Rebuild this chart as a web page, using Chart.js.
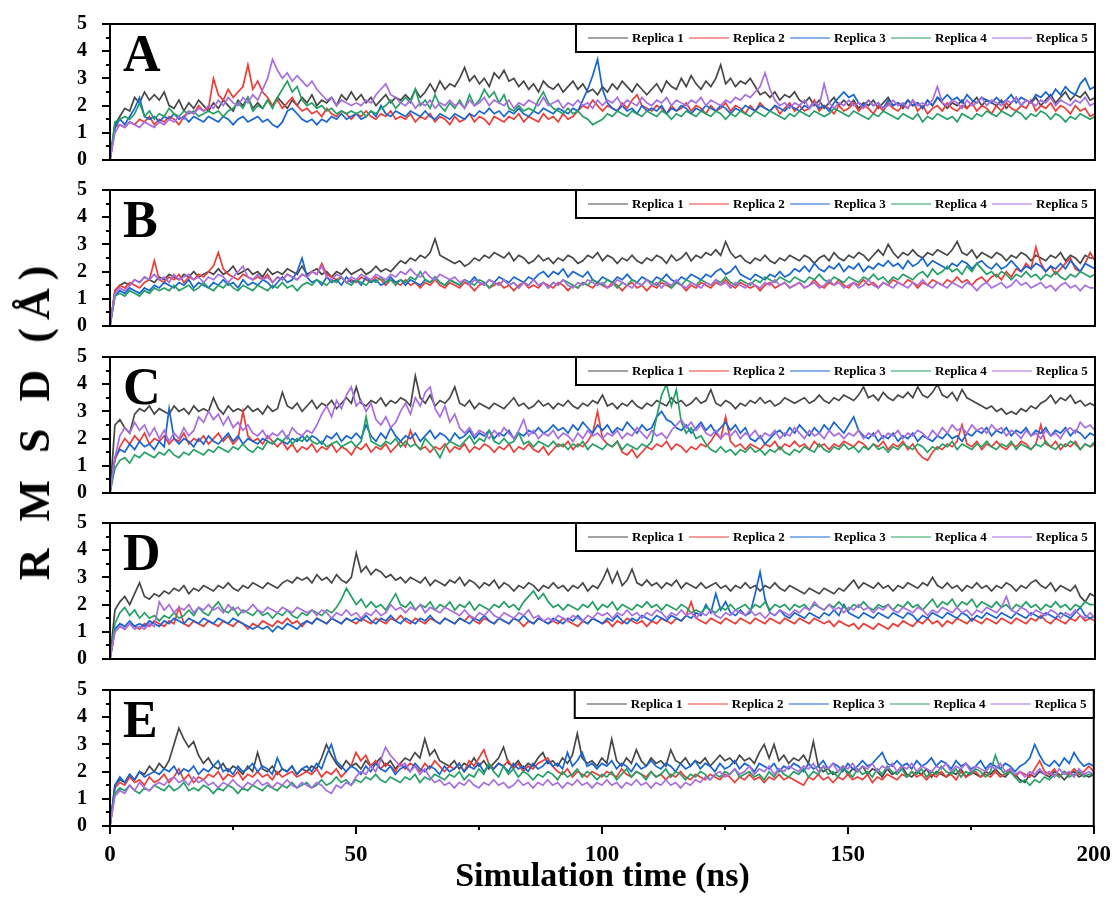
<!DOCTYPE html>
<html>
<head>
<meta charset="utf-8">
<script src="https://cdn.jsdelivr.net/npm/chart.js@4.4.1/dist/chart.umd.min.js"></script>
<style>
  body { margin: 0; background: #fff; }
  #wrap { position: relative; width: 1118px; height: 906px; overflow: hidden; font-family: "Liberation Serif", "Times New Roman", serif; }
  canvas { position: absolute; left: 0; }
  #ytitle {
    position: absolute; left: 35px; top: 419px;
    transform: translate(-50%, -50%) rotate(-90deg);
    white-space: nowrap; font-weight: bold; font-size: 44px; line-height: 1; letter-spacing: 8px;
  }
  #xtitle {
    position: absolute; left: 110px; width: 985px; top: 858px;
    text-align: center; font-weight: bold; font-size: 34px; line-height: 1;
  }
</style>
</head>
<body>
<div id="wrap">
  <canvas id="panelA" width="1118" height="203" style="top:-3px"></canvas>
  <canvas id="panelB" width="1118" height="203" style="top:163px"></canvas>
  <canvas id="panelC" width="1118" height="203" style="top:330px"></canvas>
  <canvas id="panelD" width="1118" height="203" style="top:496px"></canvas>
  <canvas id="panelE" width="1118" height="203" style="top:663px"></canvas>
  <div id="ytitle">R M S D (Å)</div>
  <div id="xtitle">Simulation time (ns)</div>
</div>
<script>
// sampled every 1 ns, 0..200 ns
const timeNs = Array.from({ length: 201 }, (_, i) => i);

const replicaNames = ["Replica 1", "Replica 2", "Replica 3", "Replica 4", "Replica 5"];
const replicaColors = ["#474747", "#ee3b36", "#1665d4", "#24a064", "#a86de2"];

const yTickValues = [0, 1, 2, 3, 4, 5];
const yMinorValues = [0.5, 1.5, 2.5, 3.5, 4.5];
const xTickValues = [0, 50, 100, 150, 200];
const xMinorValues = [25, 75, 125, 175];

// ---- panel A ----
const rmsdA1 = [
  0, 1.3, 1.6, 1.9, 1.8, 2.3, 2.1, 2.5, 2.2, 2.4,
  2.2, 2.5, 2.0, 1.9, 2.2, 1.8, 2.1, 1.9, 2.2, 2.0,
  1.8, 2.1, 1.9, 2.2, 2.0, 1.8, 2.2, 2.0, 2.3, 1.9,
  2.1, 1.9, 2.2, 2.0, 2.3, 2.1, 1.9, 2.2, 2.0, 2.3,
  2.1, 2.4, 2.0, 2.2, 2.1, 2.3, 2.0, 2.4, 2.2, 2.5,
  2.2, 2.4, 2.1, 2.3, 2.0, 2.2, 2.4, 2.1, 2.3, 2.2,
  2.4, 2.2, 2.6, 2.3, 2.5, 2.8, 2.5, 2.9, 2.6, 2.8,
  2.7, 3.0, 3.4, 2.9, 3.1, 2.8, 3.0, 2.7, 3.2, 3.0,
  3.3, 2.9, 3.0, 2.7, 2.9, 2.6, 2.8, 2.5, 2.9, 2.7,
  2.6, 2.8, 2.5, 2.7, 2.9, 2.6, 2.8, 2.5, 2.6, 2.4,
  2.7, 2.5, 2.8, 2.6, 2.9, 2.7, 2.5, 2.8, 2.6, 2.4,
  2.6, 2.8, 2.5, 2.9, 2.7, 2.6, 3.0, 2.7, 3.1, 2.8,
  2.6, 2.9, 2.7, 3.0, 3.5, 2.8, 3.0, 2.7, 2.9, 2.8,
  3.0, 2.7, 2.4, 2.5, 2.3, 2.5, 2.2, 2.4, 2.3, 2.5,
  2.2, 2.1, 2.3, 2.0, 2.2, 1.9, 2.1, 2.3, 2.0, 2.2,
  2.0, 2.2, 1.9, 2.1, 2.0, 2.2, 1.9, 2.1, 2.3, 2.0,
  2.1, 1.9, 2.2, 2.0, 2.1, 1.9, 2.2, 2.0, 2.3, 2.1,
  1.9, 2.1, 2.0, 2.2, 1.9, 2.1, 2.3, 2.0, 2.2, 2.1,
  2.0, 2.2, 1.9, 2.1, 2.3, 2.0, 2.2, 2.1, 2.3, 2.0,
  2.2, 2.4, 2.1, 2.3, 2.5, 2.2, 2.4, 2.3, 2.5, 2.2,
  2.3
];
const rmsdA2 = [
  0, 1.2, 1.3, 1.2, 1.4, 1.3, 1.5, 1.4, 1.6, 1.3,
  1.5, 1.4, 1.6, 1.5, 1.3, 1.6, 1.8, 1.7, 2.0, 1.8,
  1.9, 3.0, 2.4, 2.2, 2.6, 2.3, 2.5, 2.7, 3.5, 2.6,
  2.9, 2.5, 2.3, 2.0, 2.2, 1.9, 2.1, 2.3, 2.0, 1.8,
  1.9, 1.7, 1.8, 1.6, 1.9, 1.7, 1.6, 1.8, 1.7, 1.5,
  1.7, 1.6, 1.8, 1.6, 1.5, 1.7, 1.6, 1.8, 1.5, 1.6,
  1.5, 1.7, 1.4, 1.6, 1.5, 1.7, 1.4, 1.6, 1.5, 1.3,
  1.6, 1.4, 1.5, 1.7, 1.4, 1.6, 1.5, 1.3, 1.6, 1.5,
  1.4, 1.6, 1.5, 1.7, 1.4, 1.6, 1.5, 1.4, 1.7, 1.5,
  1.6, 1.4, 1.7, 1.5, 1.6, 1.8, 2.0, 1.9, 2.2, 2.0,
  1.8, 2.0, 1.9, 1.8, 2.1, 1.9, 2.2, 2.4, 2.0, 1.9,
  1.8, 2.0, 1.9, 1.7, 2.0, 1.8, 1.9, 2.1, 1.8, 2.0,
  1.9, 1.7, 2.0, 1.8, 1.9, 2.1, 1.8, 2.0, 1.9, 1.7,
  2.0, 1.8, 2.1, 1.9, 1.8, 2.0, 1.7, 1.9, 2.1, 1.8,
  2.0, 1.8, 1.9, 2.2, 1.8, 2.0, 1.9, 1.7, 2.0, 1.8,
  1.9, 2.1, 1.8, 2.0, 1.9, 1.7, 2.0, 1.8, 2.1, 1.9,
  1.8, 2.0, 1.9, 2.2, 1.8, 2.0, 1.7, 1.9, 2.0, 1.8,
  2.1, 1.9, 1.8, 2.0, 1.9, 2.1, 1.8, 2.0, 1.9, 1.7,
  2.0, 1.8, 2.1, 1.9, 1.8, 2.0, 1.9, 2.2, 1.8, 2.0,
  1.9, 2.1, 1.8, 2.0, 1.9, 1.7, 2.0, 1.8, 1.9, 1.6,
  1.7
];
const rmsdA3 = [
  0, 1.2, 1.5, 1.3, 1.6, 1.9, 2.3, 1.6, 1.5, 1.6,
  1.4, 1.6, 1.5, 1.7, 1.5, 1.6, 1.4, 1.6, 1.5, 1.4,
  1.6, 1.5, 1.4, 1.6, 1.5, 1.3, 1.5, 1.6, 1.4, 1.5,
  1.6, 1.4, 1.5, 1.3, 1.2, 1.4, 1.8, 1.9, 1.7, 1.5,
  1.4, 1.5, 1.3, 1.5, 1.4, 1.6, 1.5, 1.7, 1.5, 1.6,
  1.7, 1.5, 1.6, 1.8, 1.6, 2.0, 1.7, 1.6, 1.8, 1.7,
  1.6, 1.8, 1.7, 1.6, 1.8, 1.6, 1.5, 1.7, 1.6, 1.5,
  1.7, 1.6, 1.5, 1.7, 1.6, 1.8, 1.7, 1.9, 1.7, 1.8,
  1.6, 1.8, 1.7, 1.9, 1.7, 1.6, 1.8, 1.7, 1.9, 1.8,
  1.7, 1.9, 1.8, 1.7, 1.9, 1.8, 2.2, 2.6, 3.1, 3.7,
  2.6, 2.1, 1.9, 1.8, 2.0, 1.8, 1.9, 1.7, 2.0, 1.8,
  1.9, 1.8, 2.0, 1.7, 1.9, 1.8, 2.0, 1.9, 1.7, 1.9,
  1.8, 2.0, 1.9, 1.8, 2.0, 1.9, 1.7, 1.9, 1.8, 2.0,
  1.9, 1.8, 2.0, 1.9, 1.8, 2.0, 1.9, 1.8, 2.0, 1.9,
  1.8, 2.0, 1.9, 2.1, 1.9, 2.0, 1.8, 2.1, 2.3, 2.5,
  2.3, 2.4, 2.1, 2.0, 2.2, 2.0, 2.1, 1.9, 2.2, 2.0,
  2.1, 2.0, 2.2, 2.0, 2.1, 1.9, 2.2, 2.0, 2.3, 2.2,
  2.4, 2.2, 2.3, 2.1, 2.4, 2.2, 2.1, 2.3, 2.2, 2.1,
  2.3, 2.1, 2.2, 2.4, 2.1, 2.3, 2.2, 2.1, 2.4, 2.3,
  2.5, 2.3, 2.6, 2.4, 2.7, 2.5, 2.4, 2.8, 3.0, 2.6,
  2.7
];
const rmsdA4 = [
  0, 1.4, 1.5, 1.6, 1.5, 1.7, 2.1, 1.6, 1.8, 1.5,
  1.7, 1.6, 1.9, 1.7, 1.6, 1.8, 1.7, 1.8, 1.6, 1.7,
  1.8, 1.7, 1.8, 1.6, 1.8, 1.9, 2.1, 1.9, 2.3, 1.8,
  2.0, 1.9, 2.2, 1.9, 2.3, 2.6, 2.9, 2.5, 2.7, 2.2,
  2.0, 2.1, 1.9, 2.0, 1.8, 1.9, 1.7, 1.8, 1.7, 1.8,
  1.7, 1.8, 1.6, 1.8, 1.7, 1.9, 2.0, 2.2, 1.9, 2.1,
  2.3, 2.1, 2.6, 2.0, 2.2, 1.9, 2.4, 2.0, 1.8, 2.1,
  1.9, 2.2, 1.9, 2.4, 2.0, 2.2, 2.6, 2.3, 2.5, 2.1,
  2.4, 1.9, 1.8, 2.0, 1.8, 1.9, 1.8, 2.2, 2.5, 2.1,
  1.9, 1.8, 1.7, 1.9, 1.7, 1.8, 1.6, 1.5, 1.3, 1.4,
  1.5, 1.7, 1.6, 1.8, 1.7, 1.6, 1.8, 1.7, 1.6, 1.8,
  1.7, 1.6, 1.8, 1.7, 1.5, 1.7, 1.6, 1.8, 1.7, 1.6,
  1.8, 1.7, 1.6, 1.8, 1.7, 1.5, 1.7, 1.6, 1.8, 1.7,
  1.6, 1.8, 1.7, 1.6, 1.8, 1.7, 1.6, 1.5, 1.7, 1.6,
  1.8, 1.7, 1.6, 1.8, 1.7, 1.6, 1.7, 1.9, 1.8, 1.7,
  1.6, 1.8, 1.7, 1.6, 1.5, 1.7, 1.6, 1.8, 1.7, 1.6,
  1.5, 1.7, 1.6, 1.5, 1.7, 1.4, 1.6, 1.5, 1.7, 1.6,
  1.5, 1.6, 1.4, 1.7, 1.6, 1.5, 1.7, 1.6, 1.8, 1.7,
  1.6, 1.8, 1.7, 1.6, 1.8, 1.7, 1.5, 1.7, 1.6, 1.8,
  1.7, 1.5, 1.7, 1.6, 1.4, 1.6, 1.5, 1.7, 1.6, 1.5,
  1.6
];
const rmsdA5 = [
  0, 1.0, 1.3, 1.2, 1.4, 1.3, 1.2, 1.4, 1.3, 1.2,
  1.4, 1.3, 1.5, 1.4, 1.6, 1.5, 1.8, 1.7, 1.9, 1.8,
  2.0, 1.9, 2.2, 2.0, 2.3, 2.1, 2.0, 2.3, 2.1, 2.4,
  2.2, 2.6, 3.0, 3.7, 3.3, 3.0, 3.2, 2.9, 3.1, 2.9,
  2.7, 2.9, 2.6, 2.4, 2.2, 2.3, 2.0, 2.2, 2.1, 2.0,
  2.1, 2.0, 2.2, 2.1, 2.4, 2.6, 2.8, 2.4, 2.3, 2.1,
  2.0, 2.2, 1.9, 2.1, 2.0, 2.2, 1.9, 2.1, 2.0, 2.2,
  2.0, 2.1, 1.9, 2.2, 2.0, 2.1, 2.3, 2.0, 2.2, 2.1,
  2.0, 2.2, 1.9, 2.1, 2.0, 2.2, 2.1, 2.0, 2.3, 2.0,
  2.1, 2.2, 1.9, 2.1, 2.0, 2.2, 2.0, 2.1, 1.9, 2.2,
  2.0, 2.2, 2.1, 2.3, 2.0, 2.2, 2.1, 2.0, 2.3, 2.1,
  2.0, 2.2, 2.1, 2.3, 2.0, 2.2, 2.1, 2.0, 2.2, 2.1,
  2.3, 2.0, 2.2, 2.1, 2.0, 2.2, 2.1, 2.3, 2.2, 2.4,
  2.3, 2.5, 2.7, 3.2, 2.6, 2.2, 2.0, 2.1, 1.9, 2.1,
  2.0, 2.2, 1.9, 2.1, 2.0, 2.8, 2.1, 1.9, 2.1, 2.0,
  2.2, 2.0, 2.1, 1.9, 2.2, 2.0, 2.1, 1.9, 2.0, 2.2,
  2.0, 2.1, 1.9, 2.2, 2.0, 2.1, 2.0, 2.2, 2.7, 2.1,
  2.0, 2.2, 2.1, 1.9, 2.2, 2.0, 2.1, 2.3, 2.0, 2.2,
  2.1, 2.0, 2.2, 2.1, 2.3, 2.0, 2.2, 2.1, 2.0, 2.2,
  2.1, 2.3, 2.0, 2.2, 2.1, 2.0, 2.2, 2.1, 2.3, 2.0,
  2.1
];

// ---- panel B ----
const rmsdB1 = [
  0, 1.3, 1.5, 1.6, 1.5, 1.7, 1.6, 1.8, 1.7, 1.6,
  1.8, 1.7, 1.9, 1.8, 1.7, 1.9, 1.8, 2.0, 1.8, 1.9,
  2.0, 1.9, 2.1, 1.9, 2.0, 2.2, 1.9, 2.0, 2.1, 1.9,
  2.0, 1.8, 2.1, 1.9, 2.0, 1.9, 2.1, 2.0, 1.9, 2.2,
  1.9, 2.0, 2.1, 1.9, 2.0, 1.8, 2.0, 1.9, 2.1, 1.9,
  2.0, 2.1, 1.9, 2.0, 2.2, 2.0, 2.1, 2.0, 2.2, 2.4,
  2.3, 2.5, 2.4, 2.6, 2.5, 2.7, 3.2, 2.6, 2.5, 2.4,
  2.3, 2.4, 2.2, 2.3, 2.5, 2.4, 2.6, 2.5, 2.7, 2.6,
  2.5, 2.7, 2.4, 2.6, 2.5, 2.3, 2.4, 2.6, 2.4, 2.5,
  2.3, 2.5, 2.4, 2.6, 2.5, 2.3, 2.4, 2.6, 2.5, 2.7,
  2.4, 2.6, 2.5, 2.3, 2.5, 2.4, 2.6, 2.4, 2.3, 2.5,
  2.4, 2.6, 2.5, 2.3, 2.6, 2.4, 2.5, 2.7, 2.4, 2.6,
  2.5, 2.7, 2.6, 2.8, 2.6, 3.1, 2.7, 2.5, 2.6, 2.4,
  2.3, 2.5, 2.4, 2.6, 2.4, 2.3, 2.5, 2.4, 2.6, 2.5,
  2.4, 2.6, 2.5, 2.3, 2.5, 2.6, 2.4, 2.7, 2.5, 2.4,
  2.6, 2.5, 2.7, 2.6, 2.4, 2.6, 2.8, 2.6, 3.0, 2.7,
  2.5, 2.7, 2.6, 2.8, 2.6, 2.5, 2.7, 2.6, 2.8, 2.7,
  2.6, 2.8, 3.1, 2.7, 2.6, 2.8, 2.5, 2.7, 2.6, 2.5,
  2.7, 2.6, 2.4, 2.6, 2.5, 2.7, 2.6, 2.4, 2.6, 2.5,
  2.4, 2.6, 2.5, 2.7, 2.4, 2.6, 2.5, 2.3, 2.6, 2.5,
  2.5
];
const rmsdB2 = [
  0, 1.3, 1.5, 1.4, 1.6, 1.5, 1.4, 1.6, 1.7, 2.4,
  1.7, 1.6, 1.8, 1.7, 1.9, 1.6, 1.8, 1.7, 1.9, 1.8,
  2.0, 2.2, 2.7, 2.1, 1.9, 1.8, 1.7, 1.9, 1.8, 1.7,
  1.8, 1.7, 1.9, 1.6, 1.8, 1.7, 1.9, 1.8, 1.7, 1.9,
  1.8, 2.0, 1.9, 2.3, 1.9, 1.8, 1.7, 1.8, 1.6, 1.7,
  1.6, 1.8, 1.7, 1.6, 1.8, 1.7, 1.5, 1.7, 1.6, 1.5,
  1.7, 1.5, 1.6, 1.4, 1.6, 1.5, 1.7, 1.5, 1.4, 1.6,
  1.5, 1.4, 1.6, 1.5, 1.3, 1.5, 1.6, 1.4, 1.5, 1.6,
  1.4, 1.5, 1.3, 1.5, 1.6, 1.4, 1.5, 1.4, 1.6, 1.5,
  1.4, 1.6, 1.5, 1.3, 1.5, 1.4, 1.6, 1.5, 1.4, 1.6,
  1.5, 1.4, 1.6, 1.5, 1.3, 1.5, 1.6, 1.4, 1.5, 1.3,
  1.5, 1.4, 1.6, 1.5, 1.4, 1.6, 1.5, 1.3, 1.5, 1.4,
  1.6, 1.5, 1.4, 1.6, 1.5, 1.7, 1.5, 1.4, 1.6, 1.5,
  1.4, 1.5, 1.3, 1.5, 1.6, 1.4, 1.5, 1.6, 1.4, 1.5,
  1.6, 1.4, 1.5, 1.7, 1.5, 1.4, 1.6, 1.5, 1.7, 1.5,
  1.4, 1.6, 1.5, 1.7, 1.5, 1.6, 1.4, 1.6, 1.5, 1.7,
  1.6, 1.5, 1.7, 1.6, 1.4, 1.6, 1.5, 1.7, 1.6, 1.5,
  1.7, 1.6, 1.8, 1.6, 1.7, 1.5, 1.7, 1.8, 1.6, 1.8,
  1.9, 1.7, 2.0, 1.8, 2.1, 2.0, 2.3, 2.1, 2.9, 2.3,
  2.0, 2.2, 1.9, 2.1, 2.3, 2.5, 2.1, 2.0, 2.3, 2.7,
  2.4
];
const rmsdB3 = [
  0, 1.1, 1.3, 1.2, 1.4, 1.3, 1.2, 1.4, 1.3, 1.5,
  1.4, 1.6, 1.5, 1.4, 1.6, 1.5, 1.7, 1.4, 1.6, 1.5,
  1.4, 1.6, 1.5, 1.7, 1.5, 1.6, 1.4, 1.7, 1.5, 1.6,
  1.5, 1.7, 1.6, 1.4, 1.6, 1.8, 1.6, 1.7, 2.0, 2.5,
  1.8, 1.6, 1.7, 1.5, 1.8, 1.6, 1.7, 1.5, 1.8, 1.6,
  1.7, 1.5, 1.8, 1.6, 1.7, 1.5, 1.6, 1.8, 1.6, 1.7,
  1.5, 1.7, 1.6, 1.5, 1.7, 1.6, 1.8, 1.6, 1.5, 1.7,
  1.6, 1.5, 1.7, 1.6, 1.8, 1.6, 1.5, 1.7, 1.6, 1.8,
  1.7, 1.6, 1.8, 1.7, 1.6, 1.8, 1.7, 1.9, 2.0, 1.8,
  2.0, 1.9, 2.1, 1.8, 2.0, 1.9, 1.8, 2.0, 1.7, 1.6,
  1.8, 1.7, 1.6, 1.8, 1.7, 1.9, 1.7, 1.6, 1.8, 1.7,
  1.6, 1.8, 1.7, 1.9, 1.7, 1.6, 1.8, 1.7, 1.9, 1.8,
  1.7, 1.9, 1.8, 2.0, 2.1, 1.9, 2.0, 2.2, 1.9, 1.8,
  1.7, 1.9, 1.8, 1.7, 1.9, 1.8, 2.0, 1.8, 1.9, 2.1,
  2.0, 2.2, 2.0, 2.3, 2.1, 2.0, 2.2, 2.1, 2.3, 2.0,
  2.2, 2.1, 2.3, 2.0, 2.2, 2.1, 2.3, 2.2, 2.4, 2.2,
  2.3, 2.1, 2.4, 2.2, 2.3, 2.5, 2.2, 2.4, 2.3, 2.2,
  2.1, 2.3, 2.2, 2.4, 2.3, 2.1, 2.3, 2.4, 2.2, 2.1,
  2.3, 2.1, 2.2, 2.4, 2.2, 2.0, 2.2, 2.1, 2.3, 2.2,
  2.0, 2.2, 2.1, 2.3, 2.1, 2.4, 2.2, 2.0, 2.3, 2.2,
  2.1
];
const rmsdB4 = [
  0, 1.1, 1.2, 1.1, 1.3, 1.2, 1.1, 1.3, 1.2, 1.4,
  1.3, 1.4, 1.3, 1.5, 1.3, 1.4, 1.5, 1.3, 1.4, 1.6,
  1.4, 1.3, 1.5, 1.4, 1.6, 1.4, 1.3, 1.5, 1.4, 1.3,
  1.5, 1.4, 1.3, 1.5, 1.4, 1.6, 1.4, 1.5, 1.3, 1.5,
  1.6, 1.5, 1.7, 1.6, 1.5, 1.7, 1.6, 1.8, 1.6, 1.5,
  1.7, 1.6, 1.5, 1.7, 1.6, 1.8, 1.6, 1.7, 1.5, 1.7,
  1.6, 1.8, 1.7, 2.0, 1.7, 1.6, 1.8, 1.6, 1.5, 1.7,
  1.6, 1.5, 1.7, 1.6, 1.5, 1.7, 1.6, 1.4, 1.6, 1.5,
  1.7, 1.5, 1.6, 1.4, 1.6, 1.5, 1.7, 1.5, 1.6, 1.4,
  1.6, 1.5, 1.7, 1.6, 1.5, 1.4, 1.6, 1.5, 1.7, 1.6,
  1.5, 1.7, 1.6, 1.4, 1.6, 1.5, 1.7, 1.6, 1.5, 1.7,
  1.6, 1.5, 1.7, 1.6, 1.4, 1.6, 1.5, 1.7, 1.6, 1.5,
  1.7, 1.6, 1.5, 1.7, 1.6, 1.8, 1.6, 1.5, 1.7, 1.6,
  1.5, 1.7, 1.6, 1.8, 1.7, 1.6, 1.8, 1.7, 1.6, 1.8,
  1.7, 1.6, 1.8, 1.7, 1.9, 1.7, 1.6, 1.8, 1.7, 1.6,
  1.8, 1.7, 1.6, 1.8, 1.7, 1.9, 1.7, 1.8, 1.6, 1.8,
  1.7, 1.9, 1.8, 1.7, 1.9, 2.0, 1.8, 2.1, 1.9, 2.0,
  2.2, 2.0, 2.1, 1.9, 2.2, 2.0, 2.3, 2.1, 1.9, 2.0,
  1.8, 2.0, 1.9, 1.7, 1.9, 1.8, 2.0, 1.8, 1.9, 1.7,
  1.9, 1.8, 2.0, 1.8, 1.7, 1.9, 1.8, 2.0, 1.9, 1.8,
  1.9
];
const rmsdB5 = [
  0, 1.2, 1.4, 1.3, 1.5, 1.7, 1.6, 1.8, 1.7, 1.9,
  1.7, 1.8, 1.6, 1.9, 1.7, 1.8, 1.9, 1.7, 1.8, 1.6,
  1.8, 1.7, 1.9, 1.8, 1.6, 1.8, 2.0, 2.2, 1.8, 1.7,
  1.9, 1.7, 1.8, 1.6, 1.8, 1.7, 1.9, 1.8, 1.7, 1.9,
  1.8, 2.0, 1.9, 2.2, 1.8, 1.7, 1.9, 1.8, 1.6, 1.8,
  1.7, 1.9, 1.8, 1.7, 1.9, 1.8, 1.7, 1.9, 1.8, 2.0,
  1.9, 2.1, 1.9, 1.8, 2.0, 1.8, 1.7, 1.9, 1.8, 1.7,
  1.8, 1.6, 1.7, 1.5, 1.7, 1.6, 1.5, 1.7, 1.6, 1.5,
  1.7, 1.5, 1.6, 1.4, 1.6, 1.5, 1.7, 1.5, 1.6, 1.4,
  1.6, 1.5, 1.7, 1.5, 1.4, 1.6, 1.5, 1.7, 1.6, 1.5,
  1.6, 1.4, 1.5, 1.7, 1.6, 1.5, 1.4, 1.6, 1.5, 1.7,
  1.5, 1.6, 1.4, 1.6, 1.5, 1.7, 1.5, 1.4, 1.6, 1.5,
  1.4, 1.6, 1.5, 1.7, 1.5, 1.6, 1.4, 1.6, 1.5, 1.4,
  1.6, 1.5, 1.4, 1.6, 1.5, 1.7, 1.5, 1.6, 1.4, 1.5,
  1.6, 1.4, 1.5, 1.6, 1.4, 1.5, 1.7, 1.5, 1.6, 1.4,
  1.5, 1.6, 1.4, 1.5, 1.7, 1.5, 1.4, 1.6, 1.5, 1.4,
  1.6, 1.5, 1.4, 1.6, 1.5, 1.7, 1.5, 1.4, 1.6, 1.5,
  1.4, 1.6, 1.5, 1.4, 1.6, 1.5, 1.3, 1.5, 1.6, 1.4,
  1.5, 1.6, 1.4, 1.5, 1.7, 1.5, 1.6, 1.4, 1.5, 1.6,
  1.4, 1.5, 1.3, 1.5, 1.6, 1.4, 1.5, 1.3, 1.5, 1.4,
  1.4
];

// ---- panel C ----
const rmsdC1 = [
  0, 2.5, 2.7, 2.4, 2.2, 2.9, 3.1, 3.0, 3.2, 2.9,
  3.1, 3.0, 2.9, 3.2, 3.0, 3.1, 2.9, 3.2, 3.0, 3.1,
  3.0, 3.5, 3.1, 2.9, 3.2, 3.0, 3.1, 3.0, 3.2, 3.0,
  3.1, 2.9, 3.2, 3.0, 3.1, 3.7, 3.2, 3.1, 3.3, 3.0,
  3.2, 3.4, 3.1, 3.3, 3.2, 3.4, 3.1, 3.3, 3.5, 3.3,
  3.9, 3.3, 3.2, 3.4, 3.3, 3.5, 3.2, 3.4, 3.3, 3.5,
  3.4, 3.2, 4.3, 3.5, 3.3, 3.6, 3.2, 3.4, 3.3, 3.5,
  3.9, 3.3, 3.2, 3.4, 3.1, 3.3, 3.2, 3.1, 3.3, 3.2,
  3.1, 3.3, 3.5, 3.2, 3.3, 3.1, 3.2, 3.4, 3.2, 3.3,
  3.1, 3.3, 3.2, 3.4, 3.2, 3.1, 3.3, 3.2, 3.4, 3.3,
  3.6, 3.2, 3.3, 3.1, 3.3, 3.2, 3.4, 3.2, 3.1, 3.3,
  3.2, 3.4, 3.3, 3.2, 3.5, 3.3, 3.4, 3.2, 3.3, 3.5,
  3.3, 3.4, 3.8, 3.3, 3.2, 3.4, 3.3, 3.1, 3.3, 3.2,
  3.4, 3.3, 3.5, 3.3, 3.4, 3.2, 3.3, 3.5, 3.4, 3.3,
  3.4, 3.5, 3.3, 3.4, 3.6, 3.4, 3.3, 3.5, 3.4, 3.6,
  3.5, 3.4, 3.6, 3.9, 3.5, 3.6, 3.4, 3.7, 3.5, 3.4,
  3.6, 3.5, 3.7, 3.5, 3.9, 3.6, 3.5, 3.7, 4.0, 3.6,
  3.5, 3.7, 3.4, 3.8, 3.5, 3.4, 3.3, 3.2, 3.1, 3.2,
  3.0, 3.1, 2.9, 3.0, 2.9, 3.1, 3.0, 3.2, 3.1, 3.3,
  3.4, 3.6, 3.3, 3.5, 3.4, 3.6, 3.3, 3.4, 3.2, 3.3,
  3.2
];
const rmsdC2 = [
  0, 1.2, 1.7, 2.0, 1.8, 2.1, 1.9, 2.2, 1.8, 2.0,
  1.9, 2.1, 1.8, 2.0, 1.9, 2.2, 1.8, 2.0, 1.9, 2.1,
  1.8, 2.0, 2.2, 1.9, 2.1, 1.8, 2.0, 3.0, 2.1, 1.9,
  2.0, 1.8, 2.1, 1.9, 1.7, 1.9, 1.6, 1.8, 1.5, 1.7,
  1.6, 1.8, 1.5, 1.7, 1.6, 1.8, 1.5, 1.7, 1.6, 1.4,
  1.7, 1.6, 1.8, 1.5, 1.7, 1.6, 1.8, 1.5, 1.7, 1.9,
  1.7, 2.3, 1.8, 1.6, 1.7, 1.5, 1.7, 1.6, 1.8, 1.5,
  1.7, 1.6, 1.8, 1.5, 1.7, 1.6, 1.8, 1.7, 1.5, 1.7,
  1.6, 1.8, 1.5, 1.7, 1.6, 1.8, 1.6, 1.5, 1.7, 1.4,
  1.6, 1.8, 1.7, 1.9, 1.6, 1.8, 1.7, 1.9, 2.2, 3.0,
  2.0, 1.8, 1.7, 1.9, 1.5, 1.4, 1.6, 1.3, 1.5, 1.7,
  1.6, 1.8, 1.7, 1.9, 1.6, 1.8, 1.7, 1.5, 1.7, 1.6,
  1.8, 1.7, 1.9, 2.2, 2.0, 2.8, 1.9, 1.7, 1.8, 1.6,
  1.8, 1.7, 1.6, 1.8, 1.7, 1.9, 1.6, 1.8, 1.7, 1.9,
  1.7, 1.8, 1.6, 1.9, 1.7, 1.8, 1.6, 1.8, 1.7, 1.9,
  1.8, 1.7, 1.9, 1.8, 1.6, 1.8, 1.7, 1.9, 1.6, 1.8,
  1.7, 1.9, 1.6, 1.8, 1.5, 1.3, 1.2, 1.5, 1.7, 1.6,
  1.8, 1.7, 1.9, 2.5, 1.8, 1.7, 1.9, 1.6, 1.8, 1.7,
  1.9, 1.7, 1.6, 1.8, 1.7, 1.9, 1.8, 1.6, 1.8, 2.5,
  1.8, 1.7, 1.9, 1.6, 1.8, 1.7, 1.9, 1.6, 1.8, 1.7,
  1.8
];
const rmsdC3 = [
  0, 1.3, 1.6, 1.5, 1.8, 1.6, 1.9, 1.7, 1.8, 1.6,
  1.9, 1.7, 3.1, 2.0, 1.8, 2.0, 1.9, 1.7, 2.0, 1.8,
  2.1, 1.9, 1.8, 2.0, 2.2, 1.9, 2.1, 1.8, 2.0, 1.9,
  1.8, 2.0, 1.9, 1.8, 2.0, 1.9, 1.8, 2.0, 1.9, 2.1,
  1.9, 2.1, 2.0, 1.8, 2.1, 2.0, 2.2, 1.9, 2.1, 2.0,
  2.2, 2.0, 2.5, 2.1, 1.9, 2.2, 2.0, 2.4, 2.1, 1.9,
  2.1, 2.0, 2.2, 1.9, 2.1, 2.3, 2.0, 2.2, 2.1, 1.9,
  2.2, 2.0, 2.1, 2.3, 2.0, 2.2, 2.1, 2.3, 2.0, 2.2,
  2.1, 2.3, 2.0, 2.2, 2.1, 2.3, 2.2, 2.4, 2.2, 2.3,
  2.5, 2.3, 2.4, 2.2, 2.5, 2.3, 2.6, 2.4, 2.2, 2.5,
  2.3, 2.5, 2.2, 2.4, 2.3, 2.6, 2.4, 2.2, 2.5, 2.3,
  2.4, 2.8, 3.0, 2.7, 2.6, 2.4, 2.3, 2.5, 2.2, 2.4,
  2.6, 2.3, 2.5, 2.2, 2.4, 2.6, 2.3, 2.5, 2.2, 2.4,
  2.0, 1.9, 2.1, 1.8, 2.0, 2.2, 2.3, 2.1, 2.4, 2.2,
  2.5, 2.3, 2.1, 2.4, 2.2, 2.5, 2.3, 2.6, 2.4, 2.2,
  2.5, 2.8, 2.3, 2.1, 2.0, 2.2, 1.9, 2.1, 2.0, 2.2,
  1.9, 2.1, 2.0, 2.2, 1.9, 2.1, 2.0, 1.9, 2.1, 2.0,
  2.2, 2.0, 2.1, 1.9, 2.2, 2.1, 2.3, 2.2, 2.4, 2.1,
  2.3, 2.2, 2.4, 2.1, 2.3, 2.2, 2.4, 2.1, 2.3, 2.2,
  2.4, 2.1, 2.3, 2.2, 2.4, 2.1, 2.3, 2.2, 2.0, 2.2,
  2.1
];
const rmsdC4 = [
  0, 0.9, 1.2, 1.3, 1.1, 1.4, 1.3, 1.5, 1.4, 1.3,
  1.5, 1.4, 1.6, 1.4, 1.3, 1.5, 1.4, 1.6, 1.5, 1.4,
  1.6, 1.5, 1.7, 1.6, 1.5, 1.7, 1.6, 1.8, 1.6, 1.5,
  1.7, 1.6, 1.9, 1.8, 2.0, 1.9, 2.1, 1.8, 2.0, 1.9,
  2.1, 1.9, 1.8, 1.9, 1.7, 1.8, 1.9, 1.7, 1.8, 1.9,
  1.7, 1.9, 2.8, 1.9, 1.8, 1.7, 1.9, 1.8, 2.0, 1.7,
  1.9, 1.7, 1.8, 1.6, 2.0, 1.8, 1.6, 1.3, 1.7, 1.9,
  1.8, 1.7, 1.9, 2.1, 1.8, 2.0, 1.9, 2.3, 1.9, 1.8,
  2.0, 1.8, 1.9, 2.2, 1.8, 1.9, 1.7, 1.9, 1.8, 1.7,
  1.9, 1.7, 1.8, 1.6, 1.8, 1.7, 1.9, 1.6, 1.8, 1.7,
  1.6, 1.8, 1.7, 1.9, 1.6, 1.8, 1.7, 1.6, 1.8, 1.7,
  1.9, 2.8, 3.6, 4.0, 3.2, 3.8, 2.6, 2.2, 2.4, 2.0,
  2.1, 1.8, 1.6, 1.5, 1.7, 1.5, 1.6, 1.4, 1.6, 1.5,
  1.7, 1.5, 1.6, 1.4, 1.6, 1.5, 1.7, 1.5, 1.4, 1.6,
  1.5, 1.7, 1.6, 1.5, 1.8, 1.6, 1.5, 1.7, 1.6, 1.8,
  1.6, 1.7, 1.5, 1.7, 1.6, 1.8, 1.6, 1.7, 1.5, 1.7,
  1.6, 1.8, 1.7, 1.6, 1.8, 1.7, 1.5, 1.7, 1.6, 1.8,
  1.7, 1.9, 1.6, 1.8, 1.7, 1.6, 1.8, 1.7, 1.9, 1.7,
  1.6, 1.8, 1.7, 1.9, 1.6, 1.8, 1.7, 1.6, 1.8, 1.7,
  1.9, 1.7, 1.6, 1.8, 1.7, 1.9, 1.8, 1.6, 1.8, 1.7,
  1.9
];
const rmsdC5 = [
  0, 1.3, 2.1, 2.4, 2.2, 2.6, 2.3, 2.5, 2.1, 2.4,
  2.0, 2.3, 1.9, 2.2, 2.0, 2.4, 2.1, 2.3, 2.8, 2.6,
  3.0, 2.7, 2.9, 2.5, 2.8, 2.4, 2.6, 2.3, 2.5, 2.2,
  2.1, 2.3, 2.0, 2.2, 2.1, 2.3, 2.0, 2.4, 2.2, 2.1,
  2.3, 2.2, 2.5, 2.9, 3.2, 2.8, 3.4, 3.1, 3.6, 3.9,
  3.2, 3.4, 3.0, 3.3, 2.7, 2.5, 2.8, 2.4, 2.6, 3.0,
  3.3, 2.9, 3.5, 3.2, 3.7, 3.9, 3.1, 2.8, 3.2, 2.6,
  2.9, 2.4, 2.2, 2.4, 2.1, 2.3, 2.2, 2.0, 2.3, 2.1,
  2.4, 2.2, 2.0, 2.3, 2.7, 2.1, 2.3, 2.0, 2.2, 2.1,
  2.3, 2.0, 2.2, 2.1, 1.9, 2.2, 2.0, 2.3, 2.1, 2.2,
  2.0, 2.2, 2.1, 2.3, 2.0, 2.2, 2.1, 2.4, 2.2, 2.0,
  2.3, 2.1, 2.2, 2.0, 2.3, 2.5, 2.7, 2.4, 2.6, 2.3,
  2.5, 2.2, 2.1, 2.3, 2.0, 2.2, 2.1, 2.3, 2.0, 2.2,
  2.1, 2.3, 2.0, 2.2, 2.1, 2.3, 2.0, 2.2, 2.1, 2.4,
  2.2, 2.0, 2.3, 2.1, 2.2, 2.0, 2.3, 2.1, 2.2, 2.0,
  2.2, 2.1, 2.3, 2.0, 2.2, 2.1, 2.3, 2.0, 2.2, 2.1,
  2.3, 2.0, 2.2, 2.1, 2.3, 2.2, 2.0, 2.3, 2.1, 2.4,
  2.2, 2.5, 2.3, 2.4, 2.2, 2.5, 2.3, 2.4, 2.2, 2.5,
  2.3, 2.4, 2.1, 2.3, 2.2, 2.0, 2.3, 2.1, 2.2, 2.0,
  2.3, 2.1, 2.2, 2.0, 2.3, 2.4, 2.2, 2.6, 2.4, 2.5,
  2.3
];

// ---- panel D ----
const rmsdD1 = [
  0, 1.8, 2.1, 2.3, 2.0, 2.4, 2.8, 2.3, 2.2, 2.4,
  2.3, 2.5, 2.4, 2.6, 2.5, 2.7, 2.4, 2.6, 2.5, 2.7,
  2.6, 2.5, 2.7, 2.6, 2.8, 2.6, 2.5, 2.7, 2.6, 2.8,
  2.7, 2.6, 2.8, 2.7, 2.6, 2.8, 2.9, 2.8, 3.0, 2.9,
  3.0, 2.8, 3.1, 2.9, 3.0, 2.8, 3.1, 2.9, 2.8, 3.0,
  3.9, 3.2, 3.4, 3.1, 3.3, 3.2, 3.0, 3.1, 2.9, 3.0,
  2.8, 3.0, 2.9, 2.8, 3.0, 2.7, 2.9, 2.8, 2.7, 2.9,
  2.8, 3.0, 2.7, 2.9, 2.8, 2.6, 2.8, 2.7, 2.9, 2.6,
  2.8, 2.7, 2.5, 2.7, 2.6, 2.8, 2.7, 2.5, 2.7, 2.6,
  2.8, 2.6, 2.7, 2.5, 2.7, 2.6, 2.8, 2.5, 2.7, 2.6,
  2.9, 3.3, 2.8, 3.2, 2.7, 2.9, 3.3, 2.8, 2.7, 2.9,
  2.7, 2.8, 2.6, 2.8, 2.7, 2.9, 2.6, 2.8, 2.7, 2.6,
  2.8, 2.6, 2.7, 2.8, 2.6, 2.7, 2.5, 2.7, 2.6, 2.8,
  2.6, 2.7, 2.5, 2.7, 2.6, 2.8, 2.6, 2.5, 2.7, 2.6,
  2.5, 2.4, 2.6, 2.5, 2.4, 2.6, 2.5, 2.4, 2.6, 2.5,
  2.7, 2.9, 2.6, 2.8, 2.7, 2.6, 2.8, 2.6, 2.7, 2.5,
  2.7, 2.6, 2.8, 2.7, 2.6, 2.8, 2.7, 3.0, 2.7, 2.6,
  2.8, 2.6, 2.7, 2.5, 2.7, 2.6, 2.8, 2.6, 2.7, 2.5,
  2.7, 2.6, 2.8, 2.7, 2.5, 2.7, 2.6, 2.8, 2.9, 2.7,
  2.6, 2.8, 2.5, 2.7, 2.6, 2.5, 2.7, 2.3, 2.1, 2.4,
  2.3
];
const rmsdD2 = [
  0, 1.0, 1.2, 1.1, 1.3, 1.2, 1.1, 1.3, 1.2, 1.4,
  1.3, 1.2, 1.4, 1.3, 1.9, 1.3, 1.2, 1.4, 1.3, 1.2,
  1.4, 1.3, 1.2, 1.4, 1.3, 1.2, 1.4, 1.3, 1.1, 1.3,
  1.2, 1.4, 1.3, 1.2, 1.4, 1.3, 1.5, 1.3, 1.4, 1.2,
  1.4, 1.3, 1.5, 1.4, 1.3, 1.5, 1.4, 1.3, 1.5, 1.4,
  1.3, 1.5, 1.4, 1.3, 1.5, 1.4, 1.3, 1.5, 1.4, 1.6,
  1.4, 1.3, 1.5, 1.4, 1.3, 1.5, 1.4, 1.3, 1.5, 1.4,
  1.3, 1.5, 1.4, 1.6, 1.4, 1.3, 1.5, 1.4, 1.3, 1.5,
  1.4, 1.3, 1.5, 1.4, 1.2, 1.4, 1.3, 1.5, 1.4, 1.3,
  1.4, 1.3, 1.5, 1.4, 1.3, 1.2, 1.4, 1.3, 1.5, 1.4,
  1.3, 1.4, 1.2, 1.4, 1.3, 1.5, 1.4, 1.3, 1.4, 1.2,
  1.4, 1.3, 1.5, 1.4, 1.3, 1.5, 1.4, 1.6, 2.1, 1.5,
  1.4, 1.3, 1.5, 1.4, 1.3, 1.5, 1.4, 1.3, 1.5, 1.4,
  1.3, 1.5, 1.4, 1.3, 1.5, 1.4, 1.3, 1.5, 1.4, 1.3,
  1.5, 1.4, 1.3, 1.5, 1.4, 1.3, 1.4, 1.2, 1.4, 1.3,
  1.2, 1.3, 1.1, 1.3, 1.2, 1.1, 1.3, 1.2, 1.1, 1.3,
  1.2, 1.4, 1.3, 1.2, 1.4, 1.3, 1.5, 1.3, 1.4, 1.2,
  1.4, 1.3, 1.5, 1.4, 1.3, 1.5, 1.4, 1.3, 1.5, 1.4,
  1.3, 1.5, 1.4, 1.3, 1.5, 1.4, 1.3, 1.5, 1.4, 1.6,
  1.4, 1.3, 1.5, 1.4, 1.3, 1.5, 1.4, 1.6, 1.4, 1.5,
  1.4
];
const rmsdD3 = [
  0, 1.1, 1.3, 1.2, 1.4, 1.2, 1.3, 1.2, 1.4, 1.3,
  1.2, 1.4, 1.3, 1.5, 1.4, 1.3, 1.5, 1.4, 1.3, 1.5,
  1.4, 1.3, 1.5, 1.4, 1.3, 1.5, 1.4, 1.3, 1.2, 1.1,
  1.2, 1.1, 1.2, 1.0, 1.2, 1.1, 1.3, 1.2, 1.1, 1.3,
  1.4, 1.3, 1.5, 1.4, 1.3, 1.5, 1.4, 1.3, 1.5, 1.4,
  1.5, 1.4, 1.6, 1.4, 1.3, 1.5, 1.4, 1.6, 1.4, 1.3,
  1.5, 1.4, 1.3, 1.5, 1.4, 1.6, 1.4, 1.3, 1.5, 1.4,
  1.3, 1.5, 1.4, 1.3, 1.5, 1.4, 1.6, 1.4, 1.3, 1.5,
  1.4, 1.3, 1.5, 1.4, 1.6, 1.4, 1.3, 1.5, 1.4, 1.3,
  1.5, 1.4, 1.3, 1.5, 1.4, 1.6, 1.4, 1.3, 1.5, 1.4,
  1.3, 1.5, 1.4, 1.6, 1.4, 1.3, 1.5, 1.4, 1.6, 1.5,
  1.4, 1.6, 1.5, 1.4, 1.6, 1.5, 1.4, 1.6, 1.5, 1.7,
  1.6, 2.0, 1.7, 2.4, 1.8, 2.1, 1.7, 1.6, 1.8, 1.6,
  1.7, 2.4, 3.2, 2.2, 1.7, 1.6, 1.8, 1.6, 1.5, 1.7,
  1.6, 1.5, 1.7, 1.6, 1.5, 1.7, 1.6, 1.8, 1.6, 2.0,
  1.7, 1.6, 1.5, 1.7, 1.6, 1.5, 1.7, 1.6, 1.5, 1.7,
  1.6, 1.5, 1.7, 1.6, 1.4, 1.6, 1.5, 1.7, 1.6, 1.5,
  1.7, 1.6, 1.5, 1.7, 1.6, 1.4, 1.6, 1.5, 1.7, 1.6,
  1.5, 1.7, 1.6, 1.5, 1.7, 1.6, 1.5, 1.7, 1.6, 1.5,
  1.7, 1.6, 1.5, 1.7, 1.6, 1.5, 1.7, 1.9, 1.6, 1.5,
  1.6
];
const rmsdD4 = [
  0, 1.3, 1.7, 1.9, 1.6, 1.8, 1.5, 1.7, 1.5, 1.6,
  1.4, 1.6, 1.5, 1.7, 1.5, 1.6, 1.8, 1.6, 1.9, 1.7,
  1.6, 1.9, 2.1, 1.8, 1.7, 1.9, 1.6, 1.8, 1.7, 1.6,
  1.8, 1.6, 1.7, 1.5, 1.7, 1.6, 1.8, 1.6, 1.5, 1.7,
  1.6, 1.8, 1.7, 1.6, 1.8, 1.7, 1.9, 2.2, 2.6, 2.3,
  2.0, 2.2, 1.9, 2.1, 1.9, 2.0, 1.8, 2.1, 2.4, 2.0,
  1.9, 2.1, 1.8, 2.0, 1.9, 2.1, 1.8, 2.0, 1.9, 2.1,
  1.8, 2.0, 1.9, 2.1, 1.8, 2.0, 1.9, 1.8, 2.0, 1.9,
  2.1, 1.9, 2.0, 1.8, 2.1, 2.3, 2.5, 2.2, 2.4, 2.1,
  1.9, 2.0, 1.8, 2.0, 1.9, 1.8, 2.0, 1.9, 2.1, 1.8,
  2.0, 1.9, 2.1, 1.8, 2.0, 1.9, 1.8, 2.0, 1.9, 2.1,
  1.9, 2.0, 1.8, 2.0, 1.9, 1.8, 2.0, 1.9, 1.7, 1.8,
  1.7, 1.9, 1.8, 1.7, 1.9, 1.8, 2.0, 1.8, 1.9, 2.0,
  1.8, 2.0, 1.9, 2.1, 1.8, 2.0, 1.9, 2.0, 1.8, 2.0,
  1.9, 2.0, 1.8, 2.0, 1.9, 1.8, 2.0, 1.9, 2.1, 1.9,
  1.8, 2.0, 1.9, 2.1, 1.9, 1.8, 2.0, 1.9, 2.0, 1.8,
  2.0, 1.9, 2.1, 1.9, 2.0, 1.8, 2.0, 2.2, 1.9, 2.1,
  2.0, 2.2, 1.9, 2.1, 2.0, 2.2, 1.9, 2.1, 2.0, 1.9,
  2.1, 1.9, 2.0, 1.8, 2.0, 1.9, 2.1, 1.9, 2.0, 1.8,
  2.0, 1.9, 2.1, 1.9, 2.0, 1.8, 2.0, 1.9, 2.1, 2.0,
  2.0
];
const rmsdD5 = [
  0, 1.0, 1.2, 1.1, 1.3, 1.1, 1.2, 1.1, 1.3, 1.2,
  2.1, 1.8, 2.0, 1.7, 1.9, 1.8, 2.0, 1.7, 1.9, 1.8,
  2.0, 1.8, 1.9, 1.7, 2.0, 1.8, 1.9, 1.7, 1.8, 2.0,
  1.8, 1.7, 1.9, 1.8, 1.7, 1.9, 1.8, 1.7, 1.9, 1.8,
  1.7, 1.8, 1.6, 1.8, 1.7, 1.5, 1.7, 1.6, 1.8, 1.6,
  1.7, 1.5, 1.7, 1.6, 1.8, 1.6, 1.7, 2.0, 1.8, 1.9,
  1.7, 1.9, 1.8, 2.0, 1.7, 1.9, 1.8, 1.7, 1.9, 1.8,
  1.7, 1.6, 1.8, 1.6, 1.5, 1.7, 1.6, 1.8, 1.6, 1.5,
  1.7, 1.6, 1.5, 1.7, 1.6, 1.8, 1.5, 1.6, 1.4, 1.5,
  1.4, 1.6, 1.5, 1.4, 1.6, 1.5, 1.4, 1.6, 1.5, 1.7,
  1.6, 1.7, 1.5, 1.7, 1.6, 1.8, 1.6, 1.7, 1.5, 1.7,
  1.6, 1.8, 1.7, 1.5, 1.7, 1.6, 1.8, 1.6, 1.7, 1.5,
  1.7, 1.6, 1.8, 1.6, 1.5, 1.7, 1.6, 1.8, 1.7, 1.6,
  1.8, 1.6, 1.7, 1.5, 1.7, 1.6, 1.8, 1.7, 1.6, 1.8,
  1.7, 1.9, 1.8, 2.1, 1.9, 1.8, 2.0, 1.8, 1.9, 1.7,
  1.9, 1.8, 2.0, 1.8, 1.9, 1.7, 1.9, 1.8, 2.0, 1.8,
  1.7, 1.9, 1.8, 1.7, 1.9, 1.8, 1.6, 1.8, 1.7, 1.9,
  1.8, 1.7, 1.9, 1.7, 1.8, 1.6, 1.8, 1.7, 1.9, 1.8,
  1.7, 1.9, 2.3, 1.8, 1.7, 1.9, 1.8, 1.6, 1.8, 1.7,
  1.6, 1.8, 1.7, 1.5, 1.7, 1.6, 1.8, 1.6, 1.5, 1.7,
  1.5
];

// ---- panel E ----
const rmsdE1 = [
  0, 1.5, 1.7, 1.6, 1.9, 1.7, 2.0, 1.9, 2.2, 2.0,
  2.3, 2.1, 2.4, 3.0, 3.6, 3.2, 2.9, 3.1, 2.6, 2.3,
  2.5, 2.2, 2.1, 2.3, 2.0, 2.2, 2.1, 1.9, 2.2, 2.0,
  2.7, 2.1, 2.0, 2.2, 1.9, 2.1, 2.0, 2.2, 1.9, 2.1,
  2.0, 2.2, 2.1, 2.5, 3.0, 2.6, 2.3, 2.1, 2.4, 2.2,
  2.3, 2.1, 2.4, 2.2, 2.3, 2.5, 2.2, 2.4, 2.1, 2.3,
  2.5, 2.4, 2.7, 2.5, 3.2, 2.6, 2.8, 2.4, 2.3, 2.2,
  2.4, 2.1, 2.3, 2.2, 2.5, 2.2, 2.4, 2.1, 2.3, 2.5,
  2.9, 2.3, 2.2, 2.4, 2.1, 2.3, 2.2, 2.5, 2.7, 2.3,
  2.4, 2.2, 2.5, 2.3, 2.6, 3.4, 2.5, 2.3, 2.4, 2.2,
  2.5, 2.3, 3.2, 2.4, 2.2, 2.5, 2.3, 2.8, 2.4, 2.2,
  2.5, 2.3, 2.4, 2.2, 2.8, 2.4, 2.3, 2.5, 2.2, 2.4,
  2.3, 2.5, 2.2, 2.4, 2.6, 2.4, 2.5, 2.3, 2.6, 2.4,
  2.5, 2.3, 2.7, 3.0, 2.5, 3.0, 2.4, 2.6, 2.3, 2.5,
  2.4, 2.6, 2.3, 3.1, 2.2, 2.0, 2.1, 1.9, 2.0, 2.2,
  1.9, 2.1, 2.0, 2.2, 1.9, 2.1, 2.0, 1.8, 2.1, 1.9,
  2.0, 2.2, 1.9, 1.8, 2.0, 1.9, 2.1, 1.8, 2.0, 1.9,
  1.8, 2.0, 1.9, 2.1, 1.8, 2.0, 1.9, 1.8, 2.0, 1.9,
  2.1, 1.9, 1.8, 2.0, 1.9, 1.7, 1.6, 1.9, 1.8, 2.0,
  1.9, 1.8, 2.0, 1.9, 1.7, 1.9, 2.0, 1.8, 1.9, 1.8,
  1.9
];
const rmsdE2 = [
  0, 1.4, 1.6, 1.5, 1.8, 1.6, 1.7, 1.5, 1.8, 1.6,
  1.7, 1.9, 1.6, 1.8, 2.1, 1.7, 1.9, 1.6, 1.8, 1.7,
  1.9, 1.8, 2.0, 1.7, 1.9, 1.8, 2.0, 1.7, 1.9, 1.8,
  2.0, 1.8, 1.9, 1.7, 2.0, 1.8, 1.9, 2.0, 1.8, 1.9,
  2.0, 1.9, 2.1, 1.8, 2.0, 1.9, 2.1, 1.8, 2.0, 2.2,
  2.7, 2.4, 2.6, 2.2, 2.4, 2.1, 2.3, 2.2, 2.0, 2.3,
  2.1, 2.3, 2.2, 2.0, 2.3, 2.1, 2.4, 2.2, 2.0, 2.2,
  2.1, 2.3, 2.0, 2.4, 2.2, 2.5, 2.8, 2.3, 2.1, 2.3,
  2.2, 2.4, 2.1, 2.3, 2.0, 2.2, 2.1, 2.3, 2.4, 2.5,
  2.2, 2.0, 1.9, 2.1, 1.8, 2.0, 1.9, 1.8, 2.0, 1.9,
  1.8, 2.0, 1.9, 1.8, 2.1, 1.9, 1.8, 2.0, 1.9, 1.8,
  2.0, 1.8, 1.9, 1.7, 1.9, 1.8, 2.0, 1.8, 1.7, 1.9,
  1.8, 1.7, 1.9, 1.8, 1.7, 1.9, 1.8, 1.6, 1.8, 1.7,
  1.9, 1.7, 1.8, 1.6, 1.8, 1.7, 1.9, 1.7, 1.8, 1.7,
  1.6, 1.5, 1.8, 1.7, 1.9, 1.7, 1.8, 1.6, 1.8, 1.7,
  1.9, 1.7, 1.8, 1.7, 1.9, 1.6, 1.8, 1.7, 1.9, 1.8,
  1.7, 1.9, 1.8, 2.0, 1.8, 1.9, 1.7, 1.9, 1.8, 2.0,
  1.8, 1.9, 1.7, 2.0, 1.8, 1.9, 2.0, 1.8, 1.9, 1.8,
  2.0, 1.8, 1.9, 2.1, 1.8, 2.0, 1.9, 1.8, 2.1, 2.4,
  2.0, 1.9, 2.1, 1.8, 2.0, 1.9, 2.1, 1.9, 2.0, 2.2,
  2.0
];
const rmsdE3 = [
  0, 1.5, 1.8, 1.6, 1.9, 1.7, 2.0, 1.8, 1.9, 2.0,
  1.9, 2.1, 2.0, 2.2, 1.9, 2.1, 2.0, 2.2, 1.9, 2.1,
  2.0, 2.2, 2.4, 2.0, 2.1, 1.9, 2.2, 2.0, 2.1, 2.3,
  2.0, 2.2, 2.1, 1.9, 2.5, 2.1, 2.0, 2.2, 1.9, 2.1,
  2.2, 2.0, 2.3, 2.1, 2.6, 3.0, 2.4, 2.2, 2.0, 2.2,
  2.1, 1.9, 2.2, 2.0, 2.3, 2.1, 2.0, 2.2, 1.9, 2.1,
  2.2, 2.0, 2.3, 2.1, 2.0, 2.2, 2.1, 1.9, 2.2, 2.0,
  2.1, 2.3, 2.0, 2.2, 2.1, 2.3, 2.0, 2.2, 2.1, 2.3,
  2.2, 2.0, 2.3, 2.1, 2.2, 2.0, 2.3, 2.1, 2.2, 2.4,
  2.2, 2.3, 2.1, 2.7, 2.2, 2.4, 2.7, 2.2, 2.3, 2.1,
  2.3, 2.2, 2.4, 2.1, 2.3, 2.2, 2.0, 2.3, 2.1, 2.2,
  2.4, 2.2, 2.1, 2.3, 2.2, 2.0, 2.3, 2.1, 2.2, 2.4,
  2.1, 2.3, 2.2, 2.0, 2.3, 2.1, 2.2, 2.4, 2.1, 2.3,
  2.2, 2.0, 2.3, 2.2, 2.1, 2.3, 2.0, 2.2, 2.1, 2.3,
  2.2, 2.0, 2.3, 2.1, 2.2, 2.4, 2.1, 2.3, 2.2, 2.0,
  2.3, 2.1, 2.2, 2.4, 2.2, 2.3, 2.5, 2.7, 2.3, 2.2,
  2.4, 2.2, 2.3, 2.1, 2.4, 2.2, 2.3, 2.5, 2.2, 2.4,
  2.3, 2.1, 2.4, 2.2, 2.3, 2.1, 2.2, 2.4, 2.1, 2.3,
  2.2, 2.1, 2.3, 2.2, 2.0, 2.2, 2.3, 2.5, 3.0, 2.6,
  2.3, 2.2, 2.4, 2.2, 2.5, 2.3, 2.7, 2.4, 2.2, 2.3,
  2.2
];
const rmsdE4 = [
  0, 1.2, 1.4, 1.3, 1.5, 1.3, 1.2, 1.4, 1.3, 1.5,
  1.4, 1.3, 1.5, 1.3, 1.4, 1.6, 1.3, 1.4, 1.3, 1.5,
  1.4, 1.2, 1.4, 1.3, 1.5, 1.4, 1.2, 1.4, 1.3, 1.5,
  1.4, 1.3, 1.5, 1.4, 1.3, 1.5, 1.4, 1.6, 1.4, 1.5,
  1.6, 1.4, 1.5, 1.7, 1.5, 1.6, 1.8, 1.6, 1.7, 1.5,
  1.7, 1.6, 1.8, 1.7, 1.9, 1.7, 1.6, 1.8, 1.7, 1.6,
  1.8, 1.7, 1.9, 1.6, 1.8, 1.7, 1.9, 1.8, 1.7, 1.9,
  1.8, 2.0, 1.7, 1.9, 1.8, 2.1, 1.9, 2.3, 2.0, 1.8,
  2.2, 1.9, 2.1, 1.8, 2.0, 1.9, 1.7, 1.9, 1.8, 2.0,
  1.9, 1.7, 2.0, 1.8, 1.9, 2.1, 1.8, 2.0, 1.9, 1.7,
  1.9, 1.8, 2.0, 1.7, 1.9, 2.1, 1.8, 2.0, 1.9, 1.7,
  2.0, 1.8, 1.9, 2.1, 1.8, 2.0, 1.9, 1.7, 1.9, 1.8,
  2.0, 1.9, 1.7, 1.9, 1.8, 2.0, 1.9, 2.1, 1.8, 1.9,
  2.0, 1.8, 1.9, 1.7, 2.0, 1.8, 2.1, 1.9, 1.8, 2.0,
  1.9, 2.1, 1.8, 2.0, 1.9, 2.2, 1.9, 2.0, 1.8, 2.1,
  2.0, 1.8, 2.1, 1.9, 2.0, 1.8, 2.1, 1.9, 2.2, 2.0,
  1.9, 2.1, 1.8, 2.0, 1.9, 2.1, 1.8, 2.0, 1.9, 2.2,
  2.0, 1.9, 2.1, 1.8, 2.0, 1.9, 2.1, 2.0, 1.8, 2.0,
  2.6, 2.1, 1.9, 2.0, 1.8, 1.6, 1.7, 1.5, 1.7, 1.6,
  1.8, 1.7, 1.9, 1.8, 2.0, 1.8, 1.9, 2.0, 1.8, 1.9,
  1.9
];
const rmsdE5 = [
  0, 1.1, 1.3, 1.2, 1.5, 1.3, 1.6, 1.4, 1.3, 1.5,
  1.6, 1.5, 1.7, 1.8, 1.6, 1.7, 1.5, 1.8, 1.6, 1.7,
  1.5, 1.6, 1.4, 1.6, 1.5, 1.7, 1.5, 1.4, 1.6, 1.5,
  1.7, 1.5, 1.6, 1.4, 1.6, 1.5, 1.7, 1.5, 1.4, 1.6,
  1.5, 1.4, 1.6, 1.5, 1.3, 1.2, 1.5, 1.4, 1.6, 1.5,
  1.8, 2.0, 1.9, 2.2, 2.0, 2.4, 2.9, 2.6, 2.4, 2.2,
  2.3, 2.0, 2.2, 1.9, 2.1, 1.8, 1.6, 1.7, 1.5, 1.6,
  1.4, 1.6, 1.5, 1.7, 1.5, 1.4, 1.6, 1.5, 1.7, 1.5,
  1.6, 1.4, 1.5, 1.7, 1.5, 1.6, 1.4, 1.6, 1.5, 1.7,
  1.5, 1.6, 1.4, 1.6, 1.5, 1.7, 1.5, 1.6, 1.4, 1.6,
  1.5, 1.7, 1.5, 1.6, 1.4, 1.6, 1.5, 1.7, 1.5, 1.6,
  1.4, 1.6, 1.5, 1.7, 1.5, 1.6, 1.4, 1.6, 1.5, 1.7,
  1.6, 1.8, 1.7, 1.9, 2.0, 1.8, 1.9, 2.1, 1.9, 2.0,
  2.2, 1.9, 2.1, 2.0, 2.2, 1.9, 2.1, 2.0, 2.2, 2.1,
  2.0, 2.2, 2.1, 2.3, 2.0, 2.2, 2.1, 2.3, 2.0, 2.2,
  2.1, 2.3, 2.0, 2.2, 2.1, 2.3, 2.0, 2.2, 2.1, 2.3,
  2.0, 2.2, 2.1, 2.3, 2.0, 2.2, 2.1, 2.0, 2.2, 2.1,
  2.3, 2.0, 2.2, 2.1, 2.3, 2.0, 2.2, 2.1, 2.0, 2.2,
  2.1, 2.3, 2.0, 2.1, 1.9, 2.0, 1.8, 2.0, 1.9, 2.1,
  1.9, 2.0, 1.8, 2.1, 1.9, 2.0, 1.8, 2.1, 1.9, 2.0,
  1.9
];

const panels = [
  { canvas: "panelA", letter: "A", series: [rmsdA1, rmsdA2, rmsdA3, rmsdA4, rmsdA5] },
  { canvas: "panelB", letter: "B", series: [rmsdB1, rmsdB2, rmsdB3, rmsdB4, rmsdB5] },
  { canvas: "panelC", letter: "C", series: [rmsdC1, rmsdC2, rmsdC3, rmsdC4, rmsdC5] },
  { canvas: "panelD", letter: "D", series: [rmsdD1, rmsdD2, rmsdD3, rmsdD4, rmsdD5] },
  { canvas: "panelE", letter: "E", series: [rmsdE1, rmsdE2, rmsdE3, rmsdE4, rmsdE5] },
];

const serif = '"Liberation Serif", "Times New Roman", serif';
Chart.defaults.font.family = serif;
Chart.defaults.color = "#000";

// frame, tick marks, panel letter and the boxed legend strip
const panelDecor = {
  id: "panelDecor",
  afterDraw(chart, args, opts) {
    const { ctx, chartArea: area } = chart;
    const yScale = chart.scales.y;
    const xScale = chart.scales.x;
    ctx.save();
    ctx.strokeStyle = "#000";
    ctx.lineWidth = 2;
    ctx.strokeRect(area.left, area.top, area.right - area.left, area.bottom - area.top);

    ctx.beginPath();
    yTickValues.forEach(v => {
      const py = Math.round(yScale.getPixelForValue(v));
      ctx.moveTo(area.left - 8, py);
      ctx.lineTo(area.left, py);
    });
    yMinorValues.forEach(v => {
      const py = Math.round(yScale.getPixelForValue(v));
      ctx.moveTo(area.left - 4, py);
      ctx.lineTo(area.left, py);
    });
    if (opts.timeAxis) {
      xTickValues.forEach(v => {
        const px = Math.round(xScale.getPixelForValue(v));
        ctx.moveTo(px, area.bottom);
        ctx.lineTo(px, area.bottom + 8);
      });
      xMinorValues.forEach(v => {
        const px = Math.round(xScale.getPixelForValue(v));
        ctx.moveTo(px, area.bottom);
        ctx.lineTo(px, area.bottom + 4);
      });
    }
    ctx.stroke();

    ctx.fillStyle = "#000";
    ctx.font = "bold 52px " + serif;
    ctx.textAlign = "left";
    ctx.textBaseline = "alphabetic";
    ctx.fillText(opts.letter, area.left + 13, area.top + 47);

    const boxLeft = area.right - 519;
    const boxH = 28;
    ctx.fillStyle = "#fff";
    ctx.fillRect(boxLeft, area.top, area.right - boxLeft, boxH);
    ctx.strokeRect(boxLeft, area.top, area.right - boxLeft, boxH);
    ctx.font = "bold 13px " + serif;
    ctx.textBaseline = "middle";
    chart.data.datasets.forEach((ds, i) => {
      const x0 = boxLeft + 12 + i * 101;
      ctx.strokeStyle = ds.borderColor;
      ctx.lineWidth = 1.2;
      ctx.beginPath();
      ctx.moveTo(x0, area.top + 14);
      ctx.lineTo(x0 + 40, area.top + 14);
      ctx.stroke();
      ctx.fillStyle = "#000";
      ctx.fillText(ds.label, x0 + 44, area.top + 15);
    });
    ctx.restore();
  }
};

panels.forEach((p, n) => {
  const isBottom = n === panels.length - 1;
  new Chart(document.getElementById(p.canvas), {
    type: "line",
    data: {
      datasets: p.series.map((vals, i) => ({
        label: replicaNames[i],
        data: vals.map((v, k) => ({ x: timeNs[k], y: v })),
        borderColor: replicaColors[i],
        borderWidth: 1.7,
        pointRadius: 0,
        tension: 0,
        order: p.series.length - i
      }))
    },
    options: {
      responsive: false,
      animation: false,
      devicePixelRatio: 1,
      layout: { padding: { top: 14, right: 23, bottom: 0, left: 0 } },
      plugins: {
        legend: { display: false },
        tooltip: { enabled: false },
        panelDecor: { letter: p.letter, timeAxis: isBottom }
      },
      scales: {
        x: {
          type: "linear",
          min: 0,
          max: 200,
          grid: { display: false },
          border: { display: false },
          afterBuildTicks: s => { s.ticks = xTickValues.map(value => ({ value })); },
          afterFit: s => { s.height = 40; },
          ticks: { display: isBottom, autoSkip: false, font: { size: 23, weight: "bold" }, color: "#000", padding: 7, maxRotation: 0 }
        },
        y: {
          min: 0,
          max: 5,
          grid: { display: false },
          border: { display: false },
          afterBuildTicks: s => { s.ticks = yTickValues.map(value => ({ value })); },
          afterFit: s => { s.width = 110; },
          ticks: { autoSkip: false, font: { size: 20, weight: "bold" }, color: "#000", padding: 15 }
        }
      }
    },
    plugins: [panelDecor]
  });
});
</script>
</body>
</html>
